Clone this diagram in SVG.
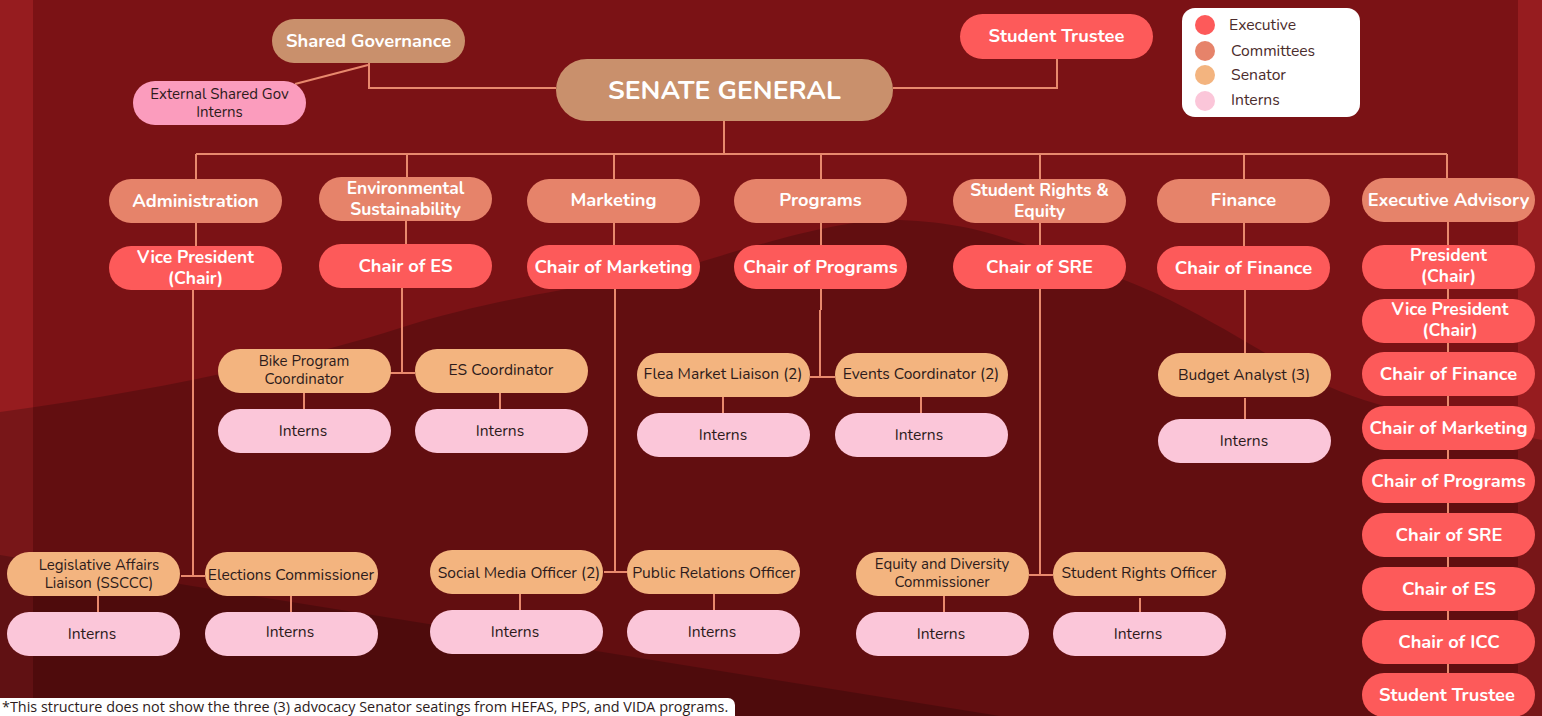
<svg xmlns="http://www.w3.org/2000/svg" width="1542" height="716" viewBox="0 0 1542 716">
<style>
.w{font-family:Nunito,Lato,"Open Sans",sans-serif;font-weight:700;fill:#fff;text-anchor:middle;font-size:18.3px}
.w2{font-size:17.4px}
.d{font-family:Nunito,Lato,"Open Sans",sans-serif;font-weight:400;fill:#2d1b1b;text-anchor:middle;font-size:15.6px}
.d2{font-size:15px}
.lg{font-family:Nunito,Lato,"Open Sans",sans-serif;fill:#4b2c2c;font-size:15.7px}
.ex{fill:#fd5a5a}.cm{fill:#e6836a}.sn{fill:#f3b47f}.in{fill:#fbc6d9}.sg{fill:#c9906c}
#connectors path{fill:none;stroke:#e8896d;stroke-width:2}
</style>
<defs>
<rect id="b" width="173" height="44" rx="22"/>
</defs>
<g id="background">
<rect width="1542" height="716" fill="#961c1f"/>
<rect x="33" y="0" width="1485" height="716" fill="#7b1215"/>
<path d="M0 412 C150 392 300 360 400 328 C520 290 620 285 700 262 C780 238 850 218 900 220 C960 222 1000 235 1040 250 C1100 270 1140 285 1170 300 C1250 340 1300 380 1364 400 C1420 418 1480 428 1542 440 V716 H0Z" fill="#000" fill-opacity="0.2"/>
<path d="M0 555 L1000 716 H0Z" fill="#000" fill-opacity="0.2"/>
</g>
<g id="connectors">
<path d="M369 63 V88 H556"/>
<path d="M368 65 L295 84"/>
<path d="M1057 59 V88 H893"/>
<path d="M724 121 V154"/>
<path d="M196 154 H1447"/>
<path d="M196 154 V179 M407 154 V177 M614 154 V179 M821 154 V179 M1040 154 V179 M1244 154 V179 M1447 154 V178"/>
<path d="M196 223 V246 M193 290 V576 M181 576 H205 M98 596 V612 M291 596 V612"/>
<path d="M406 221 V244 M402 288 V373 M390 373 H415 M304 393 V409 M500 393 V409"/>
<path d="M614 223 V245 M615 289 V572 M604 572 H627 M520 594 V610 M714 594 V610"/>
<path d="M821 223 V245 M821 289 V310 M820 310 V377 M810 377 H835 M723 397 V413 M921 397 V413"/>
<path d="M1040 223 V245 M1040 289 V575 M1029 575 H1053 M944 596 V612 M1140 598 V612"/>
<path d="M1244 223 V246 M1245 290 V353 M1245 398 V419"/>
<path d="M1448 222 V716"/>
</g>
<g id="shared-governance"><rect class="sg" x="272" y="19" width="193" height="44" rx="22"/><text class="w" x="368.5" y="47">Shared Governance</text></g>
<g id="external-interns"><rect x="133" y="81" width="173" height="44" rx="22" fill="#fb9cbd"/><text class="d d2" x="219.5" y="99">External Shared Gov<tspan x="219.5" y="117">Interns</tspan></text></g>
<g id="senate-general"><rect class="sg" x="556" y="59" width="337" height="62" rx="31"/><text class="w" x="724.5" y="99" style="font-size:26.5px">SENATE GENERAL</text></g>
<g id="student-trustee-top"><rect class="ex" x="960" y="14" width="193" height="45" rx="22.5"/><text class="w" x="1056.5" y="42">Student Trustee</text></g>
<g id="legend">
<rect x="1182" y="8" width="178" height="109" rx="13" fill="#fff"/>
<circle cx="1205" cy="25" r="10" class="ex"/><text class="lg" x="1229" y="30">Executive</text>
<circle cx="1205" cy="51" r="10" class="cm"/><text class="lg" x="1231" y="56">Committees</text>
<circle cx="1205" cy="75" r="10" class="sn"/><text class="lg" x="1231" y="80">Senator</text>
<circle cx="1205" cy="101" r="10" class="in"/><text class="lg" x="1231" y="105">Interns</text>
</g>
<g id="administration"><use href="#b" class="cm" x="109" y="179"/><text class="w" x="195.5" y="207">Administration</text></g>
<g id="environmental-sustainability"><use href="#b" class="cm" x="319" y="177"/><text class="w w2" x="405.5" y="194">Environmental<tspan x="405.5" y="215">Sustainability</tspan></text></g>
<g id="marketing"><use href="#b" class="cm" x="527" y="179"/><text class="w" x="613.5" y="206">Marketing</text></g>
<g id="programs"><use href="#b" class="cm" x="734" y="179"/><text class="w" x="820.5" y="206">Programs</text></g>
<g id="student-rights-equity"><use href="#b" class="cm" x="953" y="179"/><text class="w w2" x="1039.5" y="196">Student Rights &amp;<tspan x="1039.5" y="217">Equity</tspan></text></g>
<g id="finance"><use href="#b" class="cm" x="1157" y="179"/><text class="w" x="1243.5" y="206">Finance</text></g>
<g id="executive-advisory"><use href="#b" class="cm" x="1362" y="178"/><text class="w" x="1448.5" y="206">Executive Advisory</text></g>
<g id="vice-president-chair"><use href="#b" class="ex" x="109" y="246"/><text class="w w2" x="195.5" y="263">Vice President<tspan x="195.5" y="284">(Chair)</tspan></text></g>
<g id="chair-es"><use href="#b" class="ex" x="319" y="244"/><text class="w" x="405.5" y="272">Chair of ES</text></g>
<g id="chair-marketing"><use href="#b" class="ex" x="527" y="245"/><text class="w" x="613.5" y="273">Chair of Marketing</text></g>
<g id="chair-programs"><use href="#b" class="ex" x="734" y="245"/><text class="w" x="820.5" y="273">Chair of Programs</text></g>
<g id="chair-sre"><use href="#b" class="ex" x="953" y="245"/><text class="w" x="1039.5" y="273">Chair of SRE</text></g>
<g id="chair-finance"><use href="#b" class="ex" x="1157" y="246"/><text class="w" x="1243.5" y="274">Chair of Finance</text></g>
<g id="ea-president"><use href="#b" class="ex" x="1362" y="245"/><text class="w w2" x="1448.5" y="261">President<tspan x="1448.5" y="282">(Chair)</tspan></text></g>
<g id="ea-vice-president"><use href="#b" class="ex" x="1362" y="299"/><text class="w w2" x="1450" y="315">Vice President<tspan x="1450" y="336">(Chair)</tspan></text></g>
<g id="ea-chair-finance"><use href="#b" class="ex" x="1362" y="352"/><text class="w" x="1448.5" y="380">Chair of Finance</text></g>
<g id="ea-chair-marketing"><use href="#b" class="ex" x="1362" y="406"/><text class="w" x="1448.5" y="434">Chair of Marketing</text></g>
<g id="ea-chair-programs"><use href="#b" class="ex" x="1362" y="459"/><text class="w" x="1448.5" y="487">Chair of Programs</text></g>
<g id="ea-chair-sre"><use href="#b" class="ex" x="1362" y="513"/><text class="w" x="1449" y="541">Chair of SRE</text></g>
<g id="ea-chair-es"><use href="#b" class="ex" x="1362" y="567"/><text class="w" x="1449" y="595">Chair of ES</text></g>
<g id="ea-chair-icc"><use href="#b" class="ex" x="1362" y="620"/><text class="w" x="1449" y="648">Chair of ICC</text></g>
<g id="ea-student-trustee"><use href="#b" class="ex" x="1362" y="673"/><text class="w" x="1447" y="701">Student Trustee</text></g>
<g id="bike-program-coordinator"><use href="#b" class="sn" x="218" y="349"/><text class="d d2" x="304" y="366">Bike Program<tspan x="304" y="384">Coordinator</tspan></text></g>
<g id="es-coordinator"><use href="#b" class="sn" x="415" y="349"/><text class="d" x="501" y="375">ES Coordinator</text></g>
<g id="bike-interns"><use href="#b" class="in" x="218" y="409"/><text class="d" x="303" y="436">Interns</text></g>
<g id="es-interns"><use href="#b" class="in" x="415" y="409"/><text class="d" x="500" y="436">Interns</text></g>
<g id="flea-market-liaison"><use href="#b" class="sn" x="637" y="353"/><text class="d" x="723" y="379">Flea Market Liaison (2)</text></g>
<g id="events-coordinator"><use href="#b" class="sn" x="835" y="353"/><text class="d" x="921" y="379">Events Coordinator (2)</text></g>
<g id="flea-interns"><use href="#b" class="in" x="637" y="413"/><text class="d" x="723" y="440">Interns</text></g>
<g id="events-interns"><use href="#b" class="in" x="835" y="413"/><text class="d" x="919" y="440">Interns</text></g>
<g id="budget-analyst"><use href="#b" class="sn" x="1158" y="353"/><text class="d" x="1244" y="380">Budget Analyst (3)</text></g>
<g id="budget-interns"><use href="#b" class="in" x="1158" y="419"/><text class="d" x="1244" y="446">Interns</text></g>
<g id="legislative-affairs"><use href="#b" class="sn" x="7" y="552"/><text class="d d2" x="99" y="570">Legislative Affairs<tspan x="99" y="588">Liaison (SSCCC)</tspan></text></g>
<g id="elections-commissioner"><use href="#b" class="sn" x="205" y="552"/><text class="d" x="291" y="580">Elections Commissioner</text></g>
<g id="legislative-interns"><use href="#b" class="in" x="7" y="612"/><text class="d" x="92" y="639">Interns</text></g>
<g id="elections-interns"><use href="#b" class="in" x="205" y="612"/><text class="d" x="290" y="637">Interns</text></g>
<g id="social-media-officer"><use href="#b" class="sn" x="430" y="550"/><text class="d" x="519" y="578">Social Media Officer (2)</text></g>
<g id="public-relations-officer"><use href="#b" class="sn" x="627" y="550"/><text class="d" x="714" y="578">Public Relations Officer</text></g>
<g id="social-interns"><use href="#b" class="in" x="430" y="610"/><text class="d" x="515" y="637">Interns</text></g>
<g id="pr-interns"><use href="#b" class="in" x="627" y="610"/><text class="d" x="712" y="637">Interns</text></g>
<g id="equity-diversity"><use href="#b" class="sn" x="856" y="552"/><text class="d d2" x="942" y="569">Equity and Diversity<tspan x="942" y="587">Commissioner</tspan></text></g>
<g id="student-rights-officer"><use href="#b" class="sn" x="1053" y="552"/><text class="d" x="1139" y="578">Student Rights Officer</text></g>
<g id="equity-interns"><use href="#b" class="in" x="856" y="612"/><text class="d" x="941" y="639">Interns</text></g>
<g id="sro-interns"><use href="#b" class="in" x="1053" y="612"/><text class="d" x="1138" y="639">Interns</text></g>
<g id="footnote"><path d="M0 698 H728 a7 7 0 0 1 7 7 V716 H0Z" fill="#fff"/><text x="2" y="712" style="font-family:'Open Sans','Noto Sans',sans-serif;font-size:14.4px;fill:#2d1b1b">*This structure does not show the three (3) advocacy Senator seatings from HEFAS, PPS, and VIDA programs.</text></g>
</svg>
